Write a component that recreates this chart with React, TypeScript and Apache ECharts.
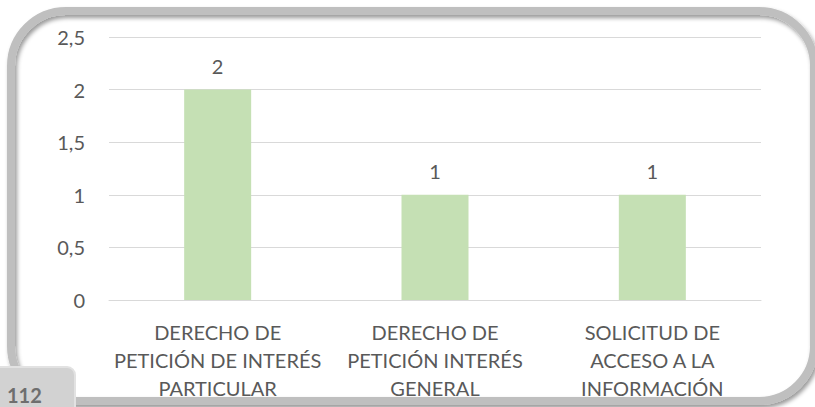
import React, { useEffect, useRef } from "react";
import * as echarts from "echarts";

const categories = [
  "DERECHO DE\nPETICIÓN DE INTERÉS\nPARTICULAR",
  "DERECHO DE\nPETICIÓN INTERÉS\nGENERAL",
  "SOLICITUD DE\nACCESO A LA\nINFORMACIÓN",
];
const values = [2, 1, 1];
const yMin = 0;
const yMax = 2.5;
const yInterval = 0.5;
const pageNumber = "112";

const FONT = "Lato, 'Noto Sans', sans-serif";
const TEXT = "#595959";

export default function App() {
  const ref = useRef<HTMLDivElement>(null);
  useEffect(() => {
    if (!ref.current) return;
    const chart = echarts.init(ref.current, undefined, { renderer: "svg" });
    chart.setOption({
      animation: false,
      backgroundColor: "#ffffff",
      textStyle: { fontFamily: FONT },
      grid: { left: 109, right: 54, top: 37, bottom: 107, containLabel: false },
      xAxis: {
        type: "category",
        data: categories,
        axisTick: { show: false },
        axisLine: { lineStyle: { color: "#D9D9D9", width: 1 } },
        axisLabel: {
          interval: 0,
          fontSize: 20,
          lineHeight: 28,
          color: TEXT,
          fontFamily: FONT,
          margin: 18,
          align: "center",
        },
      },
      yAxis: {
        type: "value",
        min: yMin,
        max: yMax,
        interval: yInterval,
        axisLine: { show: false },
        axisTick: { show: false },
        splitLine: { lineStyle: { color: "#D9D9D9", width: 1 } },
        axisLabel: {
          fontSize: 20,
          color: TEXT,
          fontFamily: FONT,
          margin: 24,
          formatter: (v: number) => String(v).replace(".", ","),
        },
      },
      series: [
        {
          type: "bar",
          data: values,
          barWidth: 67,
          itemStyle: { color: "#C5E0B4" },
          label: {
            show: true,
            position: "top",
            distance: 14,
            fontSize: 20,
            color: TEXT,
            fontFamily: FONT,
          },
        },
      ],
      graphic: [
        {
          type: "rect",
          z: 100,
          shape: { x: 11, y: 11, width: 803, height: 390, r: 55 },
          style: {
            fill: "none",
            stroke: "#BFBFBF",
            lineWidth: 8,
            shadowColor: "rgba(0,0,0,0.4)",
            shadowBlur: 4,
            shadowOffsetX: 2,
            shadowOffsetY: 3,
          },
        },
        {
          type: "rect",
          z: 110,
          shape: { x: -5, y: 367, width: 80, height: 50, r: [0, 8, 0, 0] },
          style: { fill: "#D2D2D2", stroke: "#E2E2E2", lineWidth: 2 },
        },
        {
          type: "text",
          z: 120,
          x: 7,
          y: 385,
          style: {
            text: pageNumber,
            fontFamily: FONT,
            fontWeight: "bold",
            fontSize: 20,
            fill: "#6E6E6E",
          },
        },
      ],
    });
    return () => chart.dispose();
  }, []);
  return (
    <div
      ref={ref}
      style={{ position: "absolute", left: 0, top: 0, width: 815, height: 407 }}
    />
  );
}
